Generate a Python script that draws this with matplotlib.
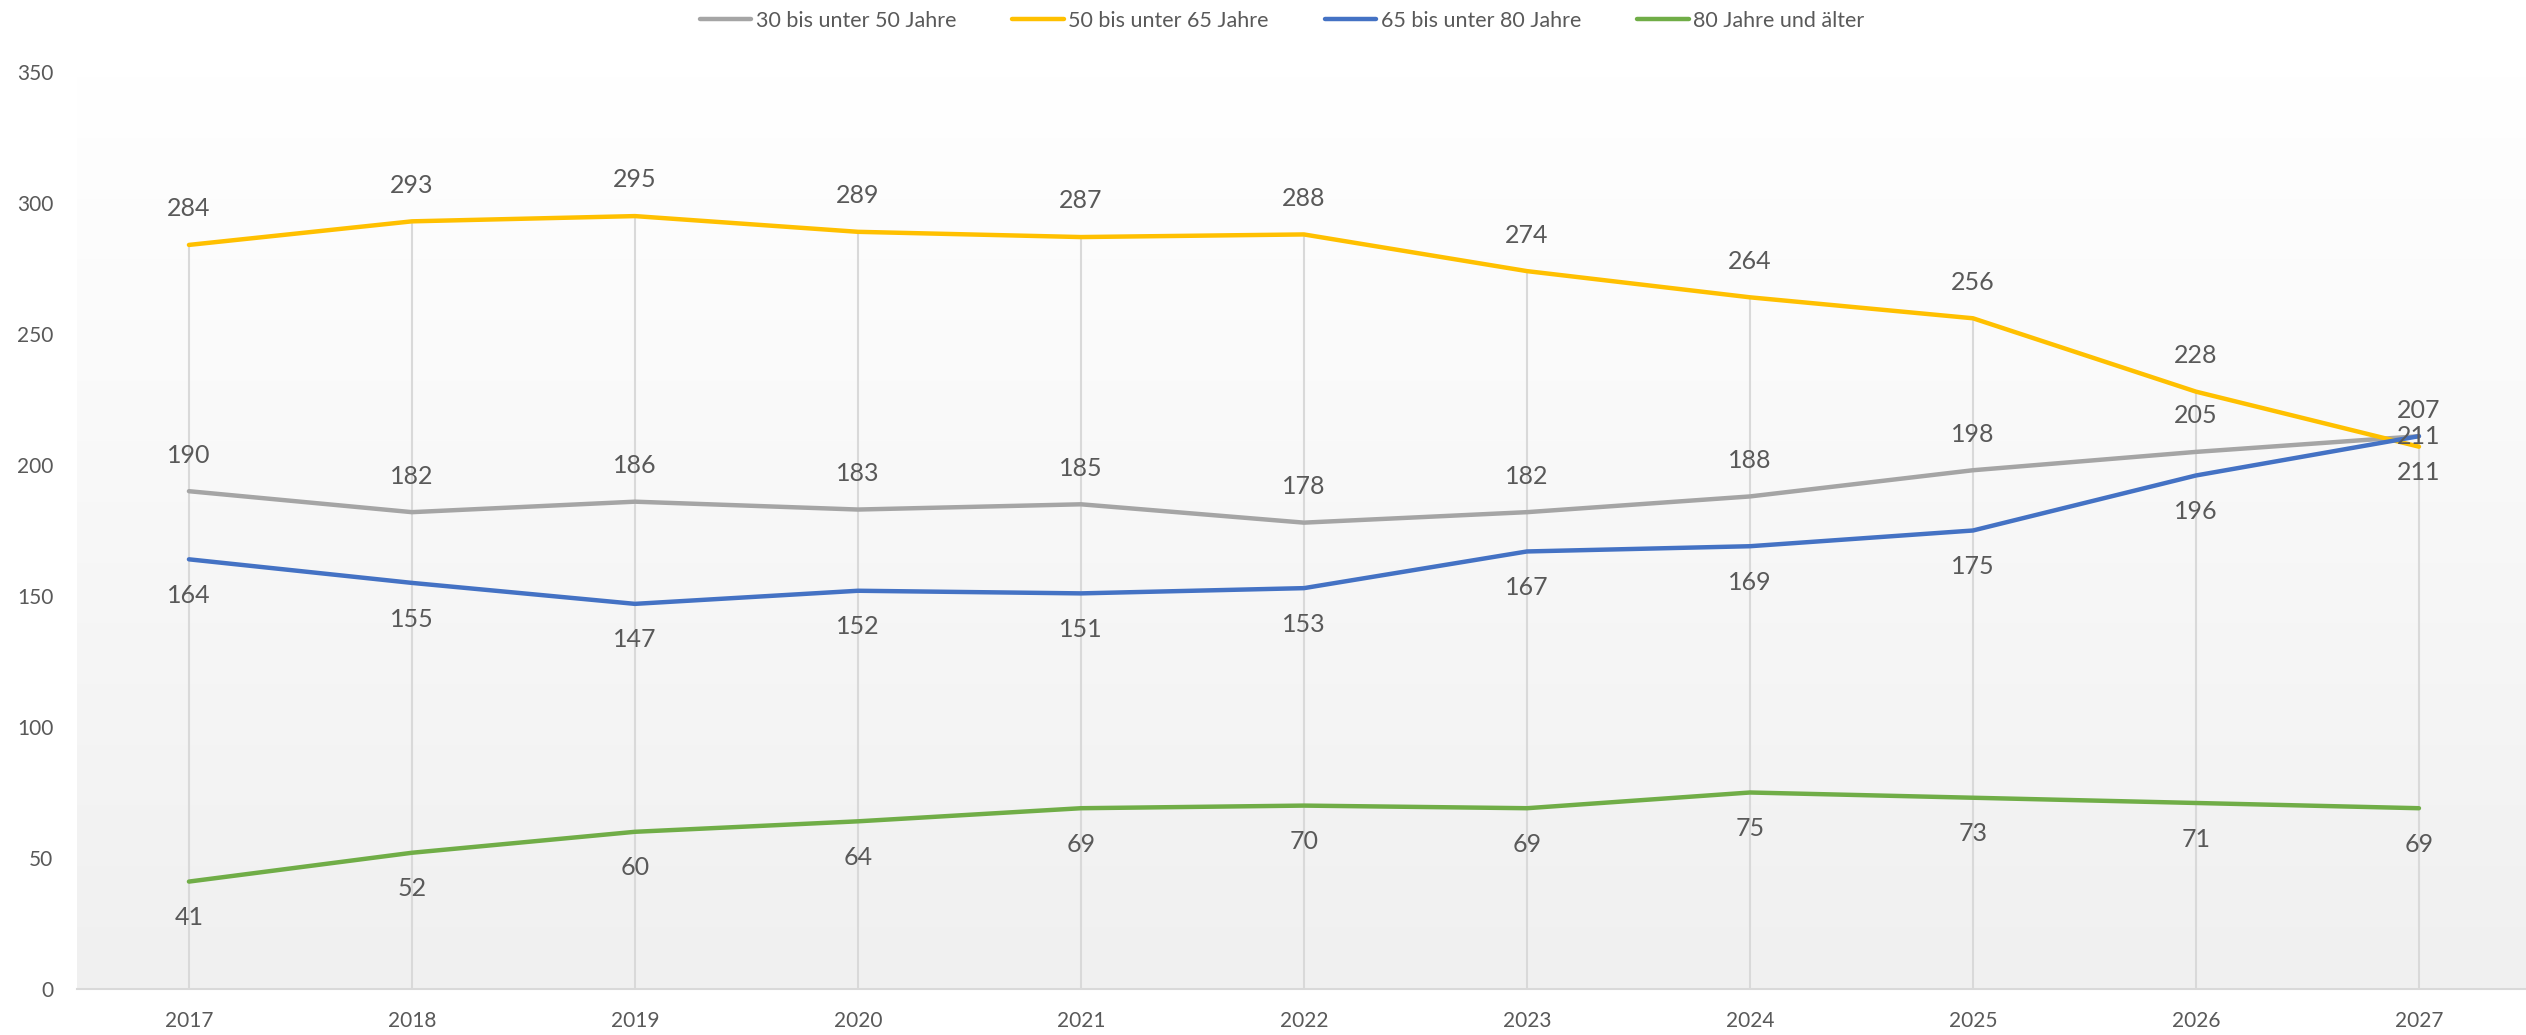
import numpy as np
import matplotlib.pyplot as plt
from matplotlib.colors import LinearSegmentedColormap

plt.rcParams['font.family'] = ['Lato', 'DejaVu Sans']

years = [2017, 2018, 2019, 2020, 2021, 2022, 2023, 2024, 2025, 2026, 2027]
s30_50 = [190, 182, 186, 183, 185, 178, 182, 188, 198, 205, 211]
s50_65 = [284, 293, 295, 289, 287, 288, 274, 264, 256, 228, 207]
s65_80 = [164, 155, 147, 152, 151, 153, 167, 169, 175, 196, 211]
s80 = [41, 52, 60, 64, 69, 70, 69, 75, 73, 71, 69]
names = ['30 bis unter 50 Jahre', '50 bis unter 65 Jahre',
         '65 bis unter 80 Jahre', '80 Jahre und älter']

txt = '#595959'
W, H = 2526, 1035
fig = plt.figure(figsize=(W / 100, H / 100), dpi=100)
ax = fig.add_axes([77 / W, 46 / H, (W - 77) / W, (989 - 72) / H])

x = np.arange(len(years))
xmin, xmax = -0.502, len(years) - 1 + 0.48
ax.set_xlim(xmin, xmax)
ax.set_ylim(0, 350)

# background gradient of the plot area
cmap = LinearSegmentedColormap.from_list('bg', ['#FFFFFF', '#F0F0F0'], N=256)
grad = np.linspace(0, 1, 256).reshape(-1, 1)
ax.imshow(grad, extent=[xmin, xmax, 0, 350], aspect='auto', cmap=cmap,
          origin='upper', zorder=0, interpolation='bilinear')

# drop lines
top = np.max([s30_50, s50_65, s65_80, s80], axis=0)
ax.vlines(x, 0, top, color='#D9D9D9', lw=1.5, zorder=1)

series = [
    (s30_50, '#A5A5A5', 26),
    (s50_65, '#FFC000', 26),
    (s65_80, '#4472C4', -26),
    (s80, '#70AD47', -26),
]
for (vals, col, off), name in zip(series, names):
    ax.plot(x, vals, color=col, lw=3.2, label=name, zorder=3,
            solid_joinstyle='round', solid_capstyle='round')
    for i, v in enumerate(vals):
        dy = off
        if vals is s30_50 and i == len(vals) - 1:
            dy = 0
        ax.annotate(str(v), (x[i], v), xytext=(0, dy), textcoords='offset points',
                    ha='center', va='center', fontsize=18, color=txt, zorder=4)

ax.set_xticks(x)
ax.set_xticklabels([str(y) for y in years])
ax.set_yticks(range(0, 351, 50))
ax.tick_params(axis='both', length=0, labelsize=15, labelcolor=txt)
ax.tick_params(axis='y', pad=17)
ax.tick_params(axis='x', pad=16)
for side in ['top', 'left', 'right']:
    ax.spines[side].set_visible(False)
ax.spines['bottom'].set_color('#D9D9D9')
ax.spines['bottom'].set_linewidth(1.5)
ax.spines['bottom'].set_zorder(2)

fig.legend(loc='center', bbox_to_anchor=(1282 / W, 1 - 21 / H), ncol=4,
           frameon=False, fontsize=15.5, handlelength=2.4, handletextpad=0.2,
           columnspacing=2.6, labelcolor=txt)

fig.savefig('out.png', dpi=100)
